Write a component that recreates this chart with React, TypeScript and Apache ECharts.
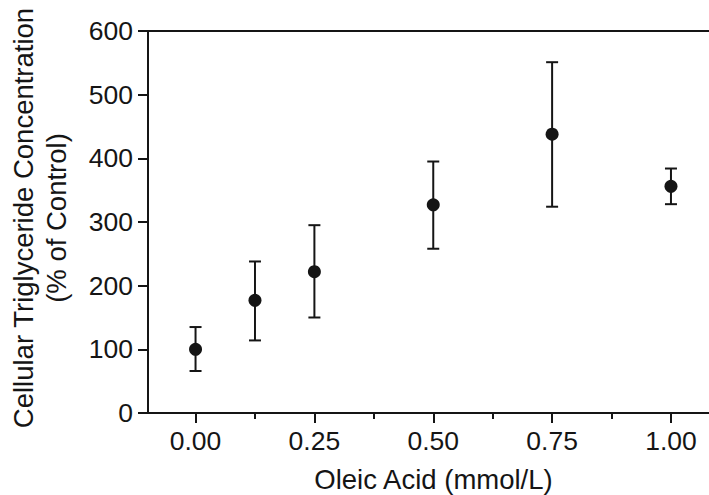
import React, { useEffect, useRef } from "react";
import * as echarts from "echarts";

const xValues = [0, 0.125, 0.25, 0.5, 0.75, 1.0];
const means = [100, 177, 222, 327, 438, 356];
const upper = [135, 238, 295, 395, 551, 384];
const lower = [66, 114, 150, 258, 324, 328];

const majorTicks = [0, 0.25, 0.5, 0.75, 1.0];
const minorTicks = [0.125, 0.375, 0.625, 0.875];

const FONT = "Liberation Sans, Arial, sans-serif";
const INK = "#151515";

export default function App() {
  const ref = useRef<HTMLDivElement>(null);
  useEffect(() => {
    if (!ref.current) return;
    const chart = echarts.init(ref.current, null, { renderer: "svg" });
    const errData = xValues.map((x, i) => [x, lower[i], upper[i]]);
    const ptData = xValues.map((x, i) => [x, means[i]]);
    chart.setOption({
      animation: false,
      backgroundColor: "#ffffff",
      textStyle: { fontFamily: FONT },
      grid: {
        left: 148,
        right: 0,
        top: 31,
        bottom: 82,
        containLabel: false,
        outerBoundsMode: "none",
      },
      xAxis: [
        {
          type: "value",
          position: "bottom",
          min: -0.1,
          max: 1.08,
          splitLine: { show: false },
          axisLine: { show: true, onZero: false, lineStyle: { color: INK, width: 2 } },
          axisTick: { show: true, customValues: majorTicks, length: 10, lineStyle: { color: INK, width: 2 } },
          axisLabel: {
            show: true,
            customValues: majorTicks,
            formatter: (v: number) => v.toFixed(2),
            fontSize: 26.5,
            color: INK,
            fontFamily: FONT,
            margin: 14,
          },
          name: "Oleic Acid (mmol/L)",
          nameLocation: "middle",
          nameGap: 52,
          nameTextStyle: { fontSize: 27.5, color: INK, fontFamily: FONT, padding: [0, 0, 0, 10] },
        },
        {
          type: "value",
          position: "bottom",
          min: -0.1,
          max: 1.08,
          splitLine: { show: false },
          axisLine: { show: false, onZero: false },
          axisTick: { show: true, customValues: minorTicks, length: 6, lineStyle: { color: INK, width: 2 } },
          axisLabel: { show: false },
        },
        {
          type: "value",
          position: "top",
          min: -0.1,
          max: 1.08,
          splitLine: { show: false },
          axisLine: { show: true, onZero: false, lineStyle: { color: INK, width: 2 } },
          axisTick: { show: false },
          axisLabel: { show: false },
        },
      ],
      yAxis: {
        type: "value",
        min: 0,
        max: 600,
        interval: 100,
        splitLine: { show: false },
        axisLine: { show: true, onZero: false, lineStyle: { color: INK, width: 2 } },
        axisTick: { show: true, length: 10, lineStyle: { color: INK, width: 2 } },
        axisLabel: { fontSize: 26.5, color: INK, fontFamily: FONT, margin: 15 },
        name: "Cellular Triglyceride Concentration\n(% of Control)",
        nameLocation: "middle",
        nameRotate: 90,
        nameGap: 75,
        nameTextStyle: { fontSize: 27.5, color: INK, fontFamily: FONT, lineHeight: 33, padding: [0, 0, 0, 8] },
      },
      series: [
        {
          type: "custom",
          xAxisIndex: 0,
          data: errData,
          renderItem: (params: any, api: any) => {
            const x = api.value(0);
            const lo = api.coord([x, api.value(1)]);
            const hi = api.coord([x, api.value(2)]);
            const hw = 6;
            const style = { stroke: INK, lineWidth: 2 };
            return {
              type: "group",
              children: [
                { type: "line", shape: { x1: lo[0], y1: lo[1], x2: hi[0], y2: hi[1] }, style },
                { type: "line", shape: { x1: hi[0] - hw, y1: hi[1], x2: hi[0] + hw, y2: hi[1] }, style },
                { type: "line", shape: { x1: lo[0] - hw, y1: lo[1], x2: lo[0] + hw, y2: lo[1] }, style },
              ],
            };
          },
          z: 1,
        },
        {
          type: "scatter",
          xAxisIndex: 0,
          data: ptData,
          symbol: "circle",
          symbolSize: 13,
          itemStyle: { color: INK, opacity: 1 },
          z: 2,
        },
      ],
    });
    return () => chart.dispose();
  }, []);
  return (
    <div
      ref={ref}
      style={{ position: "fixed", left: 0, top: 0, width: 709, height: 495, background: "#fff" }}
    />
  );
}
